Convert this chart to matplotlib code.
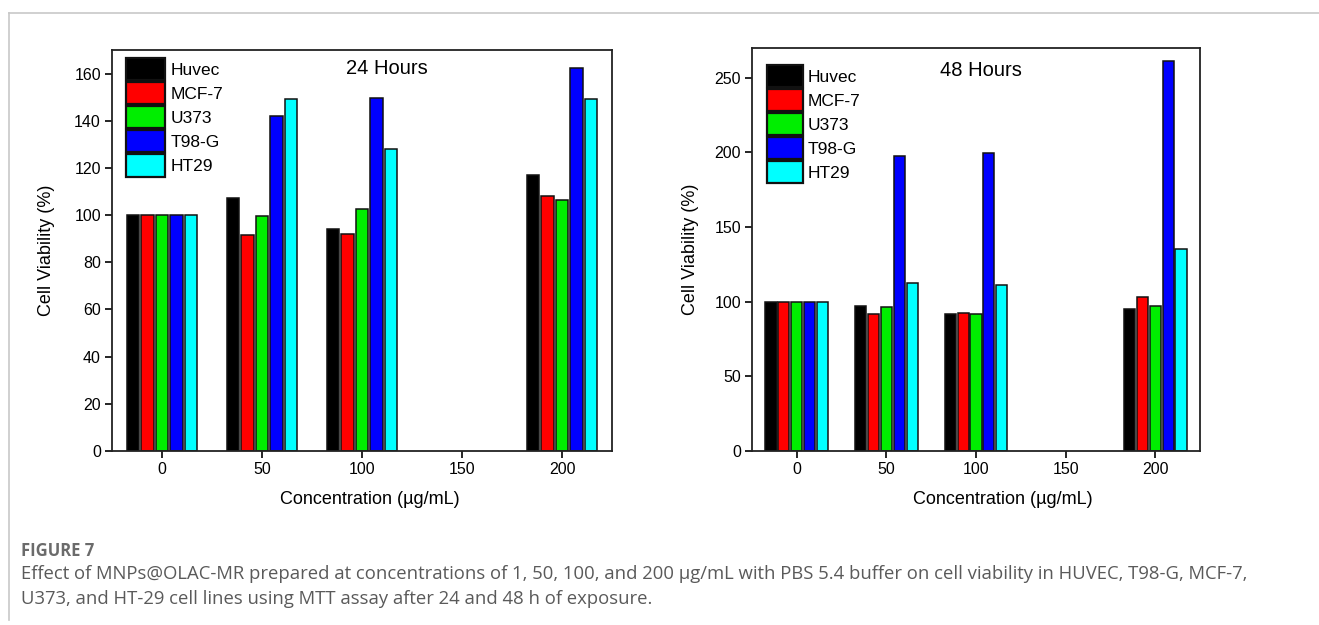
import numpy as np
import matplotlib.pyplot as plt
from matplotlib.lines import Line2D

# ---------------------------------------------------------------------------
# DATA
# ---------------------------------------------------------------------------
concentrations = [0, 50, 100, 200]
xtick_values = [0, 50, 100, 150, 200]
cell_lines = ['Huvec', 'MCF-7', 'U373', 'T98-G', 'HT29']
bar_colors = ['#000000', '#ff0000', '#00ee00', '#0000ff', '#00ffff']

# rows = cell lines, columns = concentrations
viability_24h = [
    [100, 107.3, 94.0, 116.9],   # Huvec
    [100, 91.4, 92.2, 108.1],    # MCF-7
    [100, 99.6, 102.7, 106.3],   # U373
    [100, 142.0, 149.6, 162.5],  # T98-G
    [100, 149.2, 128.2, 149.2],  # HT29
]
viability_48h = [
    [100, 97.3, 92.1, 95.0],     # Huvec
    [100, 91.9, 92.3, 103.1],    # MCF-7
    [100, 96.4, 92.1, 97.3],     # U373
    [100, 197.9, 199.4, 261.4],  # T98-G
    [100, 112.4, 110.9, 135.4],  # HT29
]

yticks_24h = [0, 20, 40, 60, 80, 100, 120, 140, 160]
yticks_48h = [0, 50, 100, 150, 200, 250]

caption_head = 'FIGURE 7'
caption_lines = [
    'Effect of MNPs@OLAC-MR prepared at concentrations of 1, 50, 100, and 200 \u00b5g/mL with PBS 5.4 buffer '
    'on cell viability in HUVEC, T98-G, MCF-7,',
    'U373, and HT-29 cell lines using MTT assay after 24 and 48 h of exposure.',
]

BAR_STEP = 7.2
BAR_WIDTH = 6.2

plt.rcParams['font.family'] = ['Liberation Sans', 'DejaVu Sans']

W, H = 1319, 625
fig = plt.figure(figsize=(W / 100, H / 100), dpi=100)


def px_axes(x0, x1, y0, y1):
    return fig.add_axes([x0 / W, 1 - y1 / H, (x1 - x0) / W, (y1 - y0) / H])


def draw_panel(ax, data, yticks, ymax, title, title_xy, leg_anchor, leg_hlen, xlabel_x):
    offsets = (np.arange(len(cell_lines)) - 2) * BAR_STEP
    for i, (name, col) in enumerate(zip(cell_lines, bar_colors)):
        ax.bar(np.array(concentrations) + offsets[i], data[i], width=BAR_WIDTH,
               color=col, edgecolor='#111111', linewidth=1.1, label=name, zorder=2)
    ax.set_xlim(-25, 225)
    ax.set_ylim(0, ymax)
    ax.set_xticks(xtick_values)
    ax.set_yticks(yticks)
    ax.tick_params(direction='out', length=5, width=1.2, labelsize=11.5, pad=3)
    for sp in ax.spines.values():
        sp.set_linewidth(1.3)
        sp.set_color('#222222')
    ax.set_xlabel('Concentration (\u00b5g/mL)', fontsize=13)
    ax.xaxis.set_label_coords(xlabel_x, -0.1)
    ax.set_ylabel('Cell Viability (%)', fontsize=13)
    ax.text(title_xy[0], title_xy[1], title, transform=ax.transAxes,
            ha='center', va='center', fontsize=14.5)
    leg = ax.legend(loc='upper left', bbox_to_anchor=leg_anchor, frameon=False,
                    fontsize=12.5, handlelength=leg_hlen, handleheight=1.6,
                    labelspacing=0.1, handletextpad=0.3, borderpad=0, borderaxespad=0)
    for p in leg.get_patches():
        p.set_linewidth(1.6)


ax1 = px_axes(112, 612, 50, 451)
draw_panel(ax1, viability_24h, yticks_24h, 170, '24 Hours', (0.55, 0.955),
           (0.027, 0.98), 2.3, 0.515)
ax1.yaxis.set_label_coords(-0.115, 0.5)

ax2 = px_axes(752, 1200, 48, 451)
draw_panel(ax2, viability_48h, yticks_48h, 270, '48 Hours', (0.51, 0.945),
           (0.034, 0.958), 2.05, 0.56)
ax2.yaxis.set_label_coords(-0.118, 0.5)

# page frame lines (screenshot of journal page)
fig.add_artist(Line2D([9 / W, 1], [1 - 13 / H, 1 - 13 / H], color='#c8c8c8', lw=1.2))
fig.add_artist(Line2D([9 / W, 9 / W], [1 - 13 / H, 1 - 620 / H], color='#c8c8c8', lw=1.2))

fig.text(21 / W, 1 - 551 / H, caption_head, fontsize=12, fontweight='bold',
         color='#6b6b6b', family=['Open Sans', 'DejaVu Sans'], va='center')
for k, line in enumerate(caption_lines):
    fig.text(21 / W, 1 - (574 + 25 * k) / H, line, fontsize=13.3, color='#5a5a5a',
             family=['Open Sans', 'DejaVu Sans'], va='center')

fig.savefig('out.png', dpi=100)
